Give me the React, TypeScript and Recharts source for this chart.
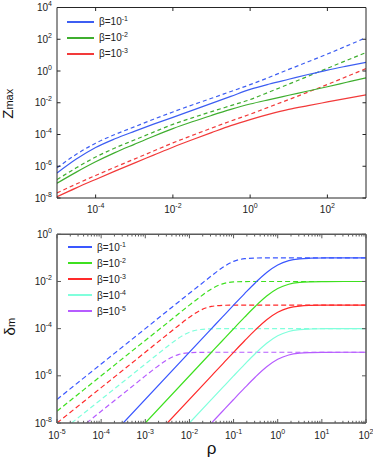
import React from 'react';
import { LineChart, Line, XAxis, YAxis, Legend } from 'recharts';

const FONT = '"Liberation Sans", Arial, Helvetica, sans-serif';

// ---- top panel: Z_max vs rho (log10 values) ----
const topRhoExp = [-5, -4.5, -4, -3.5, -3, -2.5, -2, -1.5, -1, -0.5, 0, 0.5, 1, 1.5, 2, 2.5, 3];
const zBlueDash = [-6.1, -5.25, -4.55, -4.0, -3.52, -3.04, -2.58, -2.14, -1.72, -1.29, -0.86, -0.39, 0.1, 0.58, 1.07, 1.58, 2.1];
const zBlueSolid = [-6.43, -5.55, -4.82, -4.27, -3.8, -3.35, -2.92, -2.48, -2.04, -1.6, -1.16, -0.82, -0.52, -0.22, 0.06, 0.31, 0.55];
const zGreenDash = [-6.84, -6.1, -5.42, -4.85, -4.35, -3.85, -3.36, -2.95, -2.56, -2.18, -1.8, -1.32, -0.83, -0.33, 0.17, 0.67, 1.16];
const zGreenSolid = [-7.07, -6.37, -5.72, -5.14, -4.62, -4.11, -3.63, -3.2, -2.8, -2.42, -2.08, -1.8, -1.53, -1.26, -0.99, -0.71, -0.43];
const zRedDash = [-7.68, -7.12, -6.58, -6.06, -5.55, -5.04, -4.53, -4.06, -3.6, -3.15, -2.72, -2.26, -1.8, -1.33, -0.85, -0.35, 0.15];
const zRedSolid = [-7.92, -7.36, -6.83, -6.31, -5.8, -5.3, -4.8, -4.33, -3.88, -3.44, -3.06, -2.72, -2.42, -2.18, -1.95, -1.72, -1.5];

const topBetas = [-1, -2, -3];
const topColors = ['#3d5ef2', '#3fae2f', '#f23a3a'];
const topSolid = [zBlueSolid, zGreenSolid, zRedSolid];
const topDash = [zBlueDash, zGreenDash, zRedDash];
const topXTicks = [1e-4, 1e-2, 1, 1e2];
const topYTicks = [1e-8, 1e-6, 1e-4, 1e-2, 1, 1e2, 1e4];

// ---- bottom panel: delta_m vs rho ----
const dBlueDashX = [-5, -4, -3, -2, -1.75, -1.5, -1.25, -1, -0.75, -0.5, -0.25, 0, 1, 2];
const dBlueDashY = [-7.0, -5.5, -4.0, -2.5, -2.13, -1.76, -1.41, -1.15, -1.035, -1.007, -1.001, -1, -1, -1];
const dGreenDashX = [-5, -4, -3, -2.5, -2, -1.75, -1.5, -1.25, -1, -0.75, -0.5, 0, 1, 2];
const dGreenDashY = [-7.5, -6.0, -4.5, -3.755, -3.002, -2.642, -2.314, -2.099, -2.021, -2.004, -2.001, -2, -2, -2];
const dRedDashX = [-5, -4, -3, -2.5, -2.25, -2, -1.75, -1.5, -1.25, -1, -0.5, 0, 1, 2];
const dRedDashY = [-8.0, -6.5, -5.0, -4.246, -3.874, -3.516, -3.219, -3.059, -3.012, -3.002, -3, -3, -3, -3];
const dCyanDashX = [-4.67, -4, -3.5, -3, -2.75, -2.5, -2.25, -2, -1.75, -1.5, -1.25, -1, 0, 1, 2];
const dCyanDashY = [-8, -7, -6.25, -5.5, -5.126, -4.757, -4.41, -4.15, -4.035, -4.007, -4.001, -4, -4, -4, -4];
const dPurpleDashX = [-4.33, -4, -3.5, -3.25, -3, -2.75, -2.5, -2.25, -2, -1.75, -1.5, -1, 0, 1, 2];
const dPurpleDashY = [-8, -7.5, -6.755, -6.38, -6.002, -5.642, -5.314, -5.099, -5.021, -5.004, -5.001, -5, -5, -5, -5];

const dBlueSolidX = [-3.5, -1.5, -1.25, -1, -0.75, -0.5, -0.25, 0, 0.25, 0.5, 0.75, 1, 1.5, 2];
const dBlueSolidY = [-8, -4.0, -3.501, -3.004, -2.514, -2.041, -1.619, -1.301, -1.119, -1.041, -1.014, -1.004, -1.0, -1];
const dGreenSolidX = [-3, -1.5, -1.25, -1, -0.75, -0.5, -0.25, 0, 0.25, 0.5, 0.75, 1, 1.5, 2];
const dGreenSolidY = [-8, -5.0, -4.501, -4.004, -3.514, -3.041, -2.619, -2.301, -2.119, -2.041, -2.014, -2.004, -2, -2];
const dRedSolidX = [-2.5, -1.5, -1.25, -1, -0.75, -0.5, -0.25, 0, 0.25, 0.5, 0.75, 1, 1.5, 2];
const dRedSolidY = [-8, -6.0, -5.501, -5.004, -4.514, -4.041, -3.619, -3.301, -3.119, -3.041, -3.014, -3.004, -3, -3];
const dCyanSolidX = [-2, -1.5, -1.25, -1, -0.75, -0.5, -0.25, 0, 0.25, 0.5, 0.75, 1, 1.5, 2];
const dCyanSolidY = [-8, -7.0, -6.501, -6.004, -5.514, -5.041, -4.619, -4.301, -4.119, -4.041, -4.014, -4.004, -4, -4];
const dPurpleSolidX = [-1.5, -1.25, -1, -0.75, -0.5, -0.25, 0, 0.25, 0.5, 0.75, 1, 1.5, 2];
const dPurpleSolidY = [-8.0, -7.501, -7.004, -6.514, -6.041, -5.619, -5.301, -5.119, -5.041, -5.014, -5.004, -5, -5];

const bottomBetas = [-1, -2, -3, -4, -5];
const bottomColors = ['#3a57ff', '#3ee01f', '#ff2a2a', '#80ffdc', '#b65cff'];
const bottomDash = [
  [dBlueDashX, dBlueDashY],
  [dGreenDashX, dGreenDashY],
  [dRedDashX, dRedDashY],
  [dCyanDashX, dCyanDashY],
  [dPurpleDashX, dPurpleDashY],
];
const bottomSolid = [
  [dBlueSolidX, dBlueSolidY],
  [dGreenSolidX, dGreenSolidY],
  [dRedSolidX, dRedSolidY],
  [dCyanSolidX, dCyanSolidY],
  [dPurpleSolidX, dPurpleSolidY],
];
const bottomYTicks = [1e-8, 1e-6, 1e-4, 1e-2, 1];
const bottomXTicks: number[] = [];
for (let n = -5; n <= 2; n++) {
  for (let k = 1; k <= 9; k++) {
    if (n === 2 && k > 1) break;
    bottomXTicks.push(k * Math.pow(10, n));
  }
}

const toRows = (xs: number[], ys: number[]) =>
  xs.map((x, i) => ({ rho: Math.pow(10, x), v: Math.pow(10, ys[i]) }));

const lg = (v: number) => Math.log10(v);
const isMajor = (v: number) => Math.abs(lg(v) - Math.round(lg(v))) < 1e-6;

const Pow = ({ e }: { e: number }) => (
  <>
    <tspan>10</tspan>
    <tspan dy={-5} fontSize={7}>{e}</tspan>
  </>
);

// tick renderers: draw inward tick marks (matlab style) + labels
const makeXTick = (side: 'bottom' | 'top', color: string, major: number, minor: number, labelDy: number) =>
  (p: any) => {
    const { x, y, payload } = p;
    const v = payload.value;
    const mj = isMajor(v);
    const len = mj ? major : minor;
    const dir = side === 'bottom' ? -1 : 1;
    return (
      <g>
        <line x1={x} x2={x} y1={y} y2={y + dir * len} stroke={color} strokeWidth={1} />
        {side === 'bottom' && mj && (
          <text x={x} y={y + labelDy} textAnchor="middle" fontSize={10} fontFamily={FONT} fill="#222">
            <Pow e={Math.round(lg(v))} />
          </text>
        )}
      </g>
    );
  };

const makeYTick = (side: 'left' | 'right', color: string, len: number) =>
  (p: any) => {
    const { x, y, payload } = p;
    const v = payload.value;
    const dir = side === 'left' ? 1 : -1;
    return (
      <g>
        <line x1={x} x2={x + dir * len} y1={y} y2={y} stroke={color} strokeWidth={1} />
        {side === 'left' && (
          <text x={x - 5} y={y + 3.5} textAnchor="end" fontSize={10} fontFamily={FONT} fill="#222">
            <Pow e={Math.round(lg(v))} />
          </text>
        )}
      </g>
    );
  };

const LegendBox = ({ betas, colors, lineW }: { betas: number[]; colors: string[]; lineW: number }) => (
  <div style={{ fontFamily: FONT, fontSize: 10, color: '#222' }}>
    {betas.map((b, i) => (
      <div key={b} style={{ display: 'flex', alignItems: 'center', height: 16 }}>
        <svg width={lineW} height={4} style={{ display: 'block' }}>
          <line x1={0} x2={lineW} y1={2} y2={2} stroke={colors[i]} strokeWidth={2} />
        </svg>
        <span style={{ marginLeft: 5, whiteSpace: 'nowrap' }}>
          β=10<span style={{ fontSize: 7, position: 'relative', top: -4 }}>{b}</span>
        </span>
      </div>
    ))}
  </div>
);

const ZLabel = (p: any) => {
  const { viewBox } = p;
  const cx = 13;
  const cy = viewBox.y + viewBox.height / 2 + 1;
  return (
    <text x={cx} y={cy} transform={`rotate(-90, ${cx}, ${cy})`} textAnchor="middle" fontFamily={FONT} fill="#111">
      <tspan fontSize={15}>Z</tspan>
      <tspan fontSize={11}>max</tspan>
    </text>
  );
};

const DeltaLabel = (p: any) => {
  const { viewBox } = p;
  const cx = 15;
  const cy = viewBox.y + viewBox.height / 2 - 2;
  return (
    <text x={cx} y={cy} transform={`rotate(-90, ${cx}, ${cy})`} textAnchor="middle" fontFamily={FONT} fill="#111">
      <tspan fontSize={15}>δ</tspan>
      <tspan fontSize={11}>m</tspan>
    </text>
  );
};

const RhoLabel = (p: any) => {
  const { viewBox } = p;
  return (
    <text x={viewBox.x + viewBox.width / 2} y={viewBox.y + 31} textAnchor="middle" fontSize={17} fontFamily={FONT} fill="#111">
      ρ
    </text>
  );
};

const TOP_AXIS = '#262626';
const BOT_AXIS = '#5a5a5a';

export default function App() {
  return (
    <div style={{ position: 'absolute', left: 0, top: 0, width: 373, height: 461, background: '#fff' }}>
      <div style={{ position: 'absolute', left: 0, top: 0 }}>
        <LineChart width={373} height={222} margin={{ top: 0, right: 0, bottom: 0, left: 0 }}>
          <XAxis
            dataKey="rho" type="number" scale="log" domain={[1e-5, 1e3]} allowDataOverflow
            ticks={topXTicks} interval={0} height={24} tickSize={0} tickMargin={0} tickLine={false}
            axisLine={{ stroke: TOP_AXIS }} tick={makeXTick('bottom', TOP_AXIS, 3.5, 2, 14.5)}
          />
          <XAxis
            xAxisId="t" orientation="top" dataKey="rho" type="number" scale="log" domain={[1e-5, 1e3]} allowDataOverflow
            ticks={topXTicks} interval={0} height={7.5} tickSize={0} tickMargin={0} tickLine={false}
            axisLine={{ stroke: TOP_AXIS }} tick={makeXTick('top', TOP_AXIS, 3.5, 2, 0)}
          />
          <YAxis
            type="number" scale="log" domain={[1e-8, 1e4]} allowDataOverflow ticks={topYTicks} interval={0}
            width={57} tickSize={0} tickMargin={0} tickLine={false} axisLine={{ stroke: TOP_AXIS }}
            tick={makeYTick('left', TOP_AXIS, 3.5)} label={<ZLabel />}
          />
          <YAxis
            yAxisId="r" orientation="right" type="number" scale="log" domain={[1e-8, 1e4]} allowDataOverflow
            ticks={topYTicks} interval={0} width={7} tickSize={0} tickMargin={0} tickLine={false}
            axisLine={{ stroke: TOP_AXIS }} tick={makeYTick('right', TOP_AXIS, 3.5)}
          />
          {topBetas.map((b, i) => (
            <Line key={`td${b}`} data={toRows(topRhoExp, topDash[i])} dataKey="v" stroke={topColors[i]}
              strokeWidth={1.2} strokeDasharray="4 3" dot={false} activeDot={false} type="monotone"
              isAnimationActive={false} legendType="none" />
          ))}
          {topBetas.map((b, i) => (
            <Line key={`ts${b}`} data={toRows(topRhoExp, topSolid[i])} dataKey="v" stroke={topColors[i]}
              strokeWidth={1.2} dot={false} activeDot={false} type="monotone" isAnimationActive={false} />
          ))}
          <Legend layout="vertical" align="center" verticalAlign="middle"
            wrapperStyle={{ left: 67, top: 13.7, width: 'auto', height: 'auto' }}
            content={() => <LegendBox betas={topBetas} colors={topColors} lineW={27} />} />
        </LineChart>
      </div>
      <div style={{ position: 'absolute', left: 0, top: 222 }}>
        <LineChart width={373} height={239} margin={{ top: 0, right: 0, bottom: 0, left: 0 }}>
          <XAxis
            dataKey="rho" type="number" scale="log" domain={[1e-5, 1e2]} allowDataOverflow
            ticks={bottomXTicks} interval={0} height={38} tickSize={0} tickMargin={0} tickLine={false}
            axisLine={{ stroke: BOT_AXIS, strokeWidth: 1.5 }} tick={makeXTick('bottom', BOT_AXIS, 4, 2.2, 16)}
            label={<RhoLabel />}
          />
          <XAxis
            xAxisId="t" orientation="top" dataKey="rho" type="number" scale="log" domain={[1e-5, 1e2]} allowDataOverflow
            ticks={bottomXTicks} interval={0} height={12.3} tickSize={0} tickMargin={0} tickLine={false}
            axisLine={{ stroke: BOT_AXIS, strokeWidth: 1.5 }} tick={makeXTick('top', BOT_AXIS, 4, 2.2, 0)}
          />
          <YAxis
            type="number" scale="log" domain={[1e-8, 1]} allowDataOverflow ticks={bottomYTicks} interval={0}
            width={57} tickSize={0} tickMargin={0} tickLine={false} axisLine={{ stroke: BOT_AXIS, strokeWidth: 1.5 }}
            tick={makeYTick('left', BOT_AXIS, 4)} label={<DeltaLabel />}
          />
          <YAxis
            yAxisId="r" orientation="right" type="number" scale="log" domain={[1e-8, 1]} allowDataOverflow
            ticks={bottomYTicks} interval={0} width={7} tickSize={0} tickMargin={0} tickLine={false}
            axisLine={{ stroke: BOT_AXIS, strokeWidth: 1.5 }} tick={makeYTick('right', BOT_AXIS, 4)}
          />
          {bottomBetas.map((b, i) => (
            <Line key={`bd${b}`} data={toRows(bottomDash[i][0], bottomDash[i][1])} dataKey="v" stroke={bottomColors[i]}
              strokeWidth={1.2} strokeDasharray="5 3" dot={false} activeDot={false} type="monotone"
              isAnimationActive={false} legendType="none" />
          ))}
          {bottomBetas.map((b, i) => (
            <Line key={`bs${b}`} data={toRows(bottomSolid[i][0], bottomSolid[i][1])} dataKey="v" stroke={bottomColors[i]}
              strokeWidth={1.2} dot={false} activeDot={false} type="monotone" isAnimationActive={false} />
          ))}
          <Legend layout="vertical" align="center" verticalAlign="middle"
            wrapperStyle={{ left: 68, top: 17.3, width: 'auto', height: 'auto' }}
            content={() => <LegendBox betas={bottomBetas} colors={bottomColors} lineW={24} />} />
        </LineChart>
      </div>
    </div>
  );
}
